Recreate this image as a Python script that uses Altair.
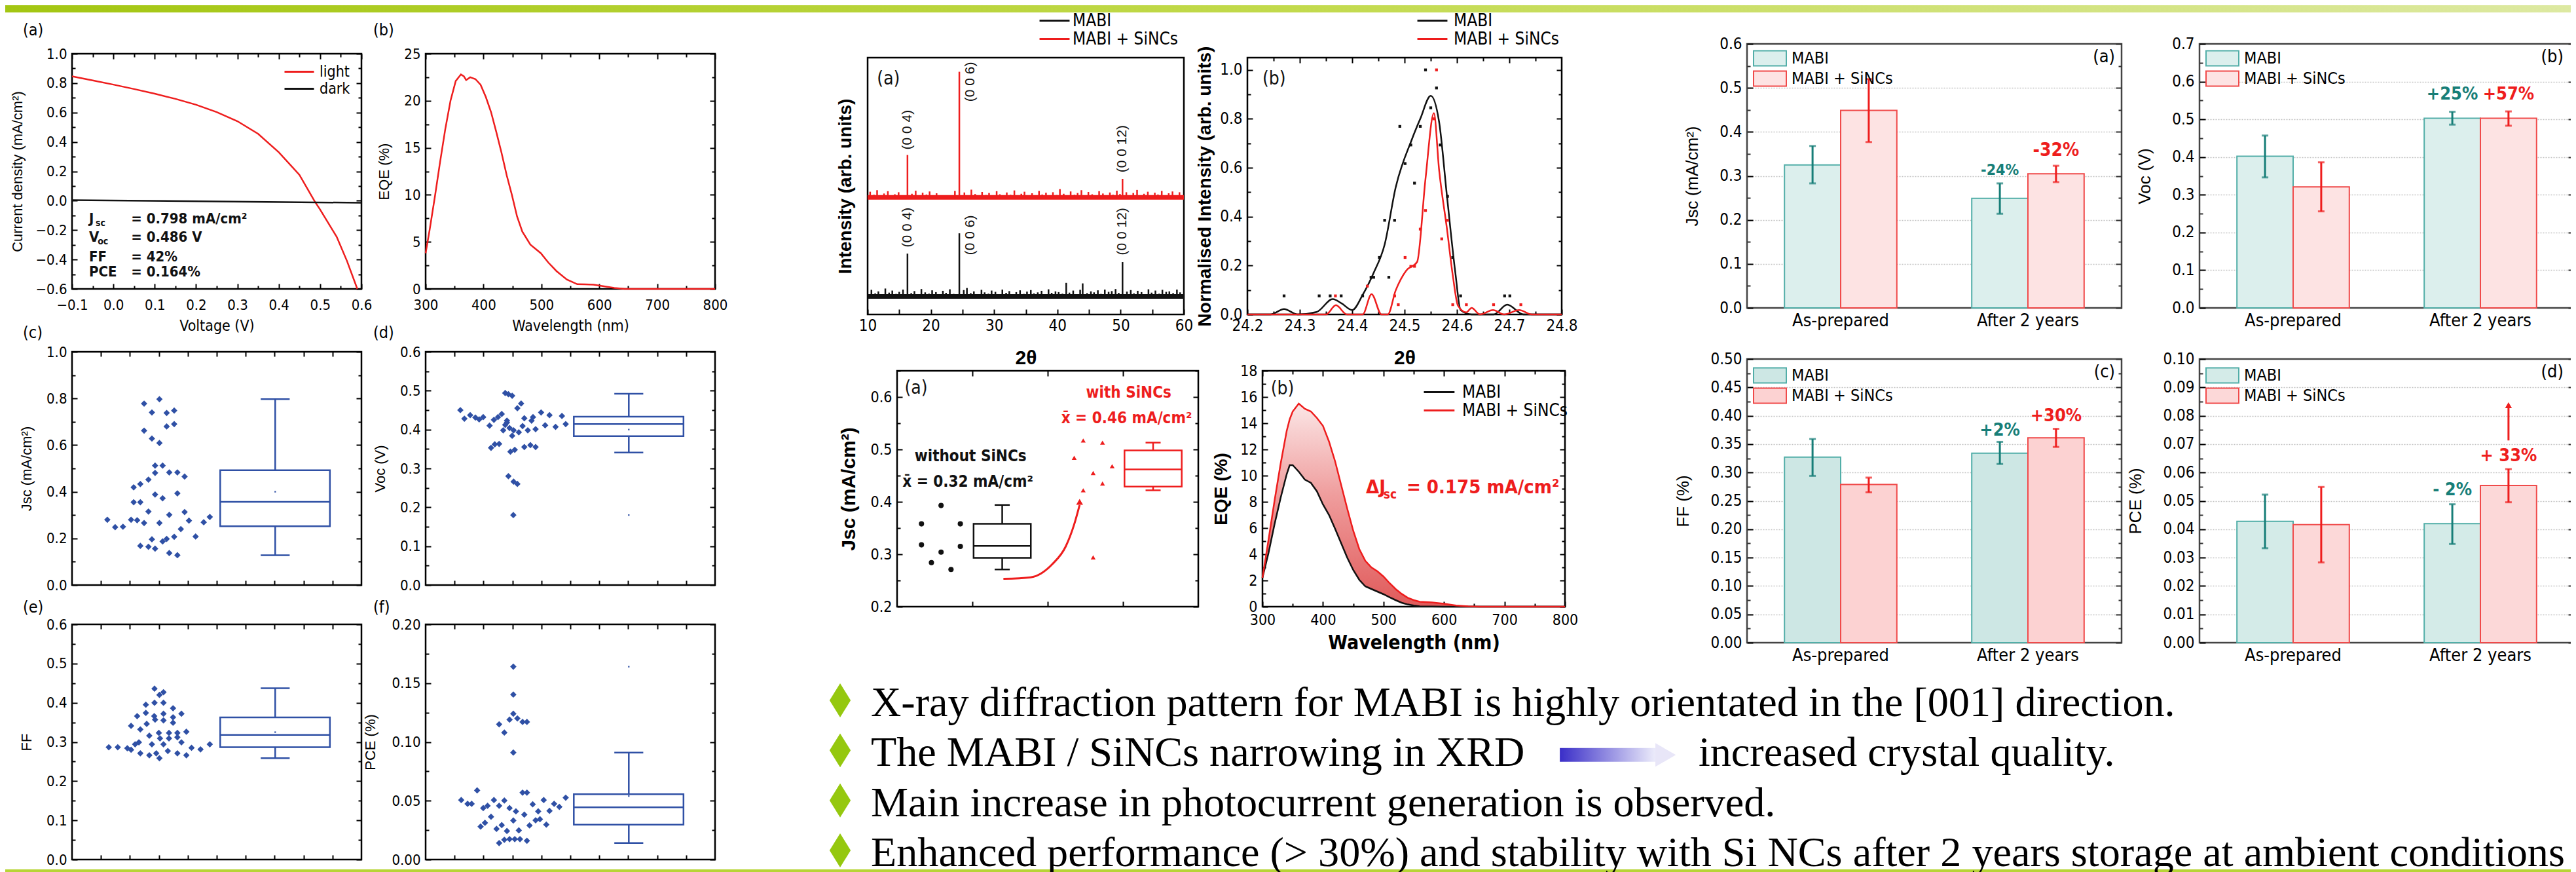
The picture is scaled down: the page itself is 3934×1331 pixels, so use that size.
import altair as alt
import pandas as pd

# ------------------------------------------------------------------ fonts / colours
FN = "Liberation Sans Narrow, DejaVu Sans Condensed, Arial Narrow, sans-serif"
FA = "Liberation Sans, Arial, DejaVu Sans, sans-serif"
FS = "Liberation Serif, Times New Roman, DejaVu Serif, serif"
RED = "#ee1d1d"
BLK = "#111111"
BLUE = "#2f50a5"
TEAL = "#177e78"
TEAL_LINE = "#52aea8"
RED_LINE = "#f04a4a"
GREEN = "#95c80f"

# ------------------------------------------------------------------ data
JV_V = [-0.1, -0.05, 0.0, 0.05, 0.1, 0.15, 0.2, 0.25, 0.3, 0.35, 0.4, 0.45, 0.486, 0.5, 0.54, 0.565, 0.59]
JV_J = [0.846, 0.818, 0.790, 0.760, 0.728, 0.693, 0.653, 0.603, 0.541, 0.455, 0.330, 0.176, 0.0, -0.060, -0.245, -0.410, -0.600]
DARK_V = [-0.1, 0.6]
DARK_J = [0.004, -0.014]
JV_LAB = ["J", "V", "FF", "PCE"]
JV_SUB = ["sc", "oc", "", ""]
JV_VAL = ["= 0.798 mA/cm²", "= 0.486 V", "= 42%", "= 0.164%"]
JV_ROW = [-0.121, -0.247, -0.381, -0.485]

EQE1_WL = [300, 307, 316, 325, 334, 343, 352, 361, 366, 370, 377, 386, 395, 404, 413, 422, 431, 440, 449, 458,
           467, 481, 499, 512, 526, 544, 562, 575, 590, 608, 626, 644, 700, 800]
EQE1_V = [3.8, 6.3, 9.8, 13.5, 17.0, 20.0, 22.1, 22.8, 22.6, 22.2, 22.5, 22.3, 21.7, 20.4, 18.8, 16.7, 14.5, 12.1, 10.0, 7.7,
          6.1, 4.7, 3.8, 2.8, 1.9, 1.0, 0.5, 0.48, 0.46, 0.28, 0.1, 0.0, 0.0, 0.0]

JSC_X = [1.22, 1.49, 1.76, 2.04, 2.25, 2.49, 2.13, 2.36, 2.64, 2.13, 2.36, 2.64, 2.36, 2.64, 2.87, 2.76, 2.87, 2.87, 3.13, 2.87,
         3.13, 3.02, 3.13, 3.27, 3.36, 3.64, 3.89, 3.64, 3.36, 3.53, 3.36, 3.64, 3.76, 3.89, 4.04, 4.27, 4.55, 4.76, 2.49, 3.02,
         2.76, 3.27, 3.53, 3.27, 3.53, 2.49, 2.76, 3.02]
JSC_Y = [0.28, 0.248, 0.25, 0.28, 0.278, 0.266, 0.419, 0.433, 0.452, 0.355, 0.355, 0.315, 0.168, 0.164, 0.156, 0.196, 0.481, 0.512, 0.512, 0.388,
         0.372, 0.266, 0.187, 0.198, 0.483, 0.483, 0.465, 0.393, 0.301, 0.207, 0.137, 0.128, 0.24, 0.313, 0.276, 0.208, 0.269, 0.292, 0.778, 0.797,
         0.74, 0.738, 0.748, 0.68, 0.69, 0.662, 0.628, 0.609]
JSC_BOX = [0.128, 0.252, 0.357, 0.4925, 0.797, 0.40]

VOC_X = [1.20, 1.34, 1.54, 1.72, 1.85, 1.99, 2.21, 2.36, 2.50, 2.63, 2.26, 2.39, 2.54, 2.75, 2.86, 2.99, 3.17, 3.30, 2.68, 2.81,
         2.90, 3.04, 2.99, 2.81, 2.93, 3.08, 2.86, 3.04, 3.17, 3.03, 3.22, 3.35, 3.41, 3.53, 3.66, 3.80, 3.41, 3.62, 3.80, 3.99,
         4.13, 4.28, 4.49, 4.71, 4.84, 2.75, 3.71]
VOC_Y = [0.45, 0.428, 0.437, 0.431, 0.426, 0.432, 0.41, 0.425, 0.432, 0.44, 0.353, 0.362, 0.363, 0.494, 0.491, 0.487, 0.455, 0.467, 0.398, 0.423,
         0.404, 0.398, 0.384, 0.418, 0.343, 0.348, 0.28, 0.266, 0.26, 0.18, 0.393, 0.409, 0.429, 0.398, 0.423, 0.401, 0.355, 0.36, 0.355, 0.444,
         0.411, 0.437, 0.407, 0.435, 0.414, 0.412, 0.432]
VOC_BOX = [0.341, 0.383, 0.414, 0.433, 0.492, 0.40]
VOC_OUT = [0.18]

FF_X = [1.27, 1.58, 1.91, 2.04, 2.18, 2.31, 2.36, 2.67, 2.91, 3.02, 3.31, 3.64, 3.95, 4.13, 4.44, 4.76, 2.04, 2.25, 2.36, 2.55,
        2.58, 2.67, 2.84, 2.87, 3.00, 3.04, 2.85, 2.55, 3.16, 3.02, 3.16, 2.85, 3.16, 3.16, 3.35, 3.35, 3.49, 3.49, 3.49, 3.64,
        3.64, 3.78, 3.78, 3.95, 3.16, 2.76]
FF_Y = [0.2865, 0.2865, 0.284, 0.28, 0.294, 0.299, 0.271, 0.266, 0.271, 0.2585, 0.277, 0.271, 0.266, 0.285, 0.281, 0.294, 0.341, 0.366, 0.332, 0.374,
        0.346, 0.316, 0.366, 0.357, 0.323, 0.309, 0.40, 0.395, 0.40, 0.42, 0.427, 0.436, 0.372, 0.355, 0.323, 0.309, 0.363, 0.349, 0.386, 0.323,
        0.312, 0.372, 0.299, 0.326, 0.294, 0.294]
FF_BOX = [0.2585, 0.2865, 0.3178, 0.3626, 0.437, 0.325]

PCE_X = [3.03, 3.03, 3.03, 2.90, 3.17, 2.54, 3.35, 3.50, 2.72, 3.03, 1.78, 1.23, 1.45, 1.59, 2.36, 2.72, 2.14, 2.54, 1.99, 2.90,
         3.35, 3.50, 3.70, 3.12, 3.41, 4.08, 4.28, 4.44, 4.62, 4.84, 3.89, 2.26, 2.05, 2.63, 1.90, 2.45, 2.81, 3.22, 3.03, 3.59,
         3.80, 3.95, 4.17, 2.54, 2.72, 2.90, 3.08, 3.26, 3.50]
PCE_Y = [0.164, 0.1403, 0.124, 0.119, 0.12, 0.115, 0.117, 0.117, 0.108, 0.091, 0.0588, 0.0506, 0.0474, 0.0474, 0.0506, 0.0502, 0.0457, 0.0457, 0.0438, 0.0438,
         0.0569, 0.0569, 0.047, 0.041, 0.0382, 0.0506, 0.0414, 0.0474, 0.0448, 0.0526, 0.041, 0.0364, 0.0312, 0.0293, 0.028, 0.0261, 0.0243, 0.0248, 0.0332, 0.029,
         0.0334, 0.0343, 0.0297, 0.014, 0.0168, 0.0174, 0.0174, 0.0174, 0.016]
PCE_BOX = [0.014, 0.0297, 0.0444, 0.0556, 0.091, 0.054]
PCE_OUT = [0.164]

XA_RED_NX = [10.4, 11.0, 11.5, 12.1, 12.6, 13.2, 13.8, 14.3, 14.9, 15.5,
             17.0, 17.6, 18.1, 18.7, 19.3, 19.8, 20.4, 20.9, 23.8, 25.3,
             25.9, 26.4, 27.0, 27.6, 28.1, 28.7, 29.2, 29.8, 30.4, 30.9,
             31.5, 32.0, 32.6, 33.2, 33.7, 34.3, 34.8, 35.4, 36.0, 36.5,
             37.1, 37.6, 38.2, 38.8, 39.3, 39.9, 40.4, 41.0, 41.6, 42.1,
             42.7, 43.2, 43.8, 44.4, 44.9, 45.5, 46.0, 46.6, 47.2, 47.7,
             48.3, 48.8, 49.4, 49.9, 50.9, 51.5, 52.0, 52.6, 53.1, 53.7,
             54.3, 54.8, 55.4, 55.9, 56.5, 57.1, 57.6, 58.2, 58.7, 59.3]
XA_RED_NY = [0.478, 0.466, 0.484, 0.462, 0.471, 0.480, 0.459, 0.468, 0.476, 0.463,
             0.470, 0.482, 0.461, 0.474, 0.467, 0.479, 0.458, 0.472, 0.481, 0.475,
             0.464, 0.486, 0.469, 0.460, 0.477, 0.465, 0.473, 0.462, 0.480, 0.468,
             0.458, 0.475, 0.466, 0.483, 0.461, 0.470, 0.478, 0.463, 0.472, 0.460,
             0.481, 0.467, 0.474, 0.459, 0.476, 0.465, 0.488, 0.470, 0.462, 0.479,
             0.466, 0.473, 0.484, 0.461, 0.477, 0.468, 0.463, 0.480, 0.471, 0.459,
             0.475, 0.466, 0.482, 0.469, 0.476, 0.462, 0.473, 0.485, 0.464, 0.470,
             0.478, 0.460, 0.474, 0.467, 0.481, 0.463, 0.472, 0.479, 0.461, 0.476]
XA_BLK_NX = [10.6, 11.2, 11.7, 12.3, 12.8, 13.4, 13.9, 14.5, 15.0, 15.6,
             16.9, 17.4, 18.0, 18.5, 19.1, 19.7, 20.2, 20.8, 21.3, 21.9,
             22.4, 23.0, 23.6, 25.2, 25.7, 26.3, 26.8, 27.4, 28.0, 28.5,
             29.1, 29.6, 30.2, 30.7, 31.3, 31.9, 32.4, 33.0, 33.5, 34.1,
             34.7, 35.2, 35.8, 36.3, 36.9, 37.5, 38.0, 38.6, 39.1, 39.7,
             40.2, 40.8, 41.4, 41.9, 42.5, 43.0, 43.6, 44.0, 44.7, 45.3,
             45.8, 46.4, 46.9, 47.5, 48.1, 48.6, 49.2, 49.7, 51.0, 51.6,
             52.1, 52.7, 53.3, 53.8, 54.4, 54.9, 55.5, 56.1, 56.6, 57.2,
             57.7, 58.3, 58.9, 59.4]
XA_BLK_NY = [0.096, 0.082, 0.090, 0.078, 0.101, 0.085, 0.093, 0.080, 0.088, 0.097,
             0.083, 0.091, 0.079, 0.099, 0.086, 0.081, 0.094, 0.087, 0.077, 0.092,
             0.084, 0.098, 0.080, 0.095, 0.103, 0.083, 0.090, 0.078, 0.096, 0.086,
             0.081, 0.093, 0.088, 0.079, 0.097, 0.084, 0.091, 0.077, 0.087, 0.094,
             0.080, 0.089, 0.095, 0.082, 0.086, 0.092, 0.078, 0.098, 0.084, 0.090,
             0.087, 0.081, 0.123, 0.085, 0.093, 0.079, 0.096, 0.121, 0.083, 0.090,
             0.086, 0.094, 0.080, 0.097, 0.088, 0.091, 0.099, 0.084, 0.089, 0.095,
             0.082, 0.092, 0.087, 0.079, 0.098, 0.085, 0.093, 0.081, 0.096, 0.088,
             0.090, 0.083, 0.097, 0.086]
XA_BASE_RED = 0.449
XA_BASE_BLK = 0.062
XA_PEAK_X = [16.3, 24.5, 50.3]
XA_PEAK_RED = [0.621, 0.945, 0.528]
XA_PEAK_BLK = [0.237, 0.316, 0.204]
XA_LAB_T = ["(0 0 4)", "(0 0 6)", "(0 0 12)", "(0 0 4)", "(0 0 6)", "(0 0 12)"]
XA_LAB_X = [16.3, 26.3, 50.3, 16.3, 26.3, 50.3]
XA_LAB_Y = [0.719, 0.906, 0.645, 0.339, 0.309, 0.323]

XB_BLK_X = [24.2, 24.244, 24.27, 24.296, 24.332, 24.363, 24.38, 24.4, 24.42, 24.441, 24.462, 24.483, 24.514, 24.53, 24.55,
            24.566, 24.581, 24.597, 24.607, 24.628, 24.67, 24.696, 24.727, 24.8]
XB_BLK_Y = [0.0, 0.0, 0.022, 0.0, 0.01, 0.063, 0.045, 0.018, 0.08, 0.17, 0.286, 0.519, 0.716, 0.80, 0.894,
            0.787, 0.483, 0.17, 0.018, 0.0, 0.0, 0.04, 0.0, 0.0]
XB_RED_X = [24.2, 24.35, 24.369, 24.39, 24.42, 24.437, 24.456, 24.468, 24.483, 24.503, 24.524, 24.54, 24.556, 24.566, 24.581,
            24.592, 24.602, 24.618, 24.628, 24.644, 24.669, 24.69, 24.719, 24.743, 24.8]
XB_RED_Y = [0.0, 0.0, 0.038, 0.0, 0.0, 0.083, 0.0, 0.0, 0.098, 0.179, 0.215, 0.555, 0.823, 0.59, 0.349,
            0.161, 0.036, 0.009, 0.027, 0.0, 0.018, 0.0, 0.018, 0.0, 0.0]
XB_BD_X = [24.27, 24.337, 24.358, 24.379, 24.42, 24.436, 24.441, 24.452, 24.47, 24.462, 24.481, 24.491, 24.501, 24.512, 24.519,
           24.53, 24.54, 24.55, 24.561, 24.568, 24.582, 24.592, 24.607, 24.691, 24.701]
XB_BD_Y = [0.076, 0.076, 0.076, 0.076, 0.076, 0.152, 0.152, 0.233, 0.152, 0.385, 0.385, 0.769, 0.617, 0.693, 0.537,
           0.769, 1.0, 0.845, 0.926, 0.693, 0.483, 0.233, 0.076, 0.076, 0.076]
XB_RD_X = [24.368, 24.429, 24.481, 24.488, 24.501, 24.512, 24.519, 24.53, 24.54, 24.556, 24.561, 24.571, 24.582, 24.592, 24.618,
           24.67, 24.722]
XB_RD_Y = [0.076, 0.116, 0.076, 0.04, 0.233, 0.197, 0.197, 0.349, 0.425, 0.8, 1.0, 0.309, 0.385, 0.04, 0.04,
           0.04, 0.04]

JA_BLK_X = [0.81, 2.10, 1.46, 0.81, 2.10, 1.46, 1.14, 1.79]
JA_BLK_Y = [0.358, 0.358, 0.393, 0.318, 0.315, 0.304, 0.284, 0.271]
JA_RED_X = [6.18, 6.82, 5.88, 7.14, 6.51, 6.82, 6.18, 6.51]
JA_RED_Y = [0.517, 0.513, 0.484, 0.468, 0.455, 0.435, 0.422, 0.294]
JA_BOX_BLK = [0.271, 0.293, 0.316, 0.358, 0.394]
JA_BOX_RED = [0.422, 0.429, 0.462, 0.498, 0.513]
JA_ARROW_X = [3.53, 4.43, 5.15, 5.60, 5.88, 6.06]
JA_ARROW_Y = [0.253, 0.256, 0.281, 0.315, 0.357, 0.394]

EQE2_WL = [300, 310, 320, 330, 340, 345, 350, 360, 370, 380, 390, 400, 410, 420, 430, 440, 450, 460, 470, 480,
           490, 500, 510, 520, 530, 540, 550, 560, 580, 600, 620, 640, 660, 700, 800]
EQE2_SI = [2.2, 5.1, 8.1, 10.9, 13.4, 14.3, 14.9, 15.5, 15.1, 14.9, 14.4, 13.8, 12.6, 11.1, 9.3, 7.5, 5.8, 4.4, 3.5, 3.0,
           2.7, 2.3, 1.8, 1.35, 0.98, 0.68, 0.5, 0.38, 0.32, 0.22, 0.09, 0.02, 0.0, 0.0, 0.0]
EQE2_MA = [2.2, 4.1, 6.3, 8.3, 10.1, 10.8, 10.8, 10.3, 9.7, 9.45, 8.8, 7.8, 7.0, 5.95, 4.85, 3.75, 2.8, 2.05, 1.55, 1.35,
           1.15, 0.95, 0.72, 0.5, 0.3, 0.17, 0.09, 0.03, 0.01, 0.0, 0.0, 0.0, 0.0, 0.0, 0.0]

COND = ["As-prepared", "After 2 years"]
SER = ["MABI", "MABI + SiNCs"]
JSC_BAR = [0.325, 0.449, 0.249, 0.305]
JSC_LO = [0.283, 0.377, 0.214, 0.286]
JSC_HI = [0.368, 0.520, 0.283, 0.323]
VOC_BAR = [0.402, 0.321, 0.503, 0.503]
VOC_LO = [0.346, 0.256, 0.486, 0.483]
VOC_HI = [0.457, 0.386, 0.520, 0.521]
FF_BAR = [0.327, 0.279, 0.334, 0.361]
FF_LO = [0.294, 0.265, 0.315, 0.345]
FF_HI = [0.359, 0.291, 0.354, 0.377]
PCE_BAR = [0.0428, 0.0416, 0.0420, 0.0554]
PCE_LO = [0.0333, 0.0283, 0.0348, 0.0495]
PCE_HI = [0.0522, 0.0549, 0.0488, 0.0612]
JSC_ANN = ["-24%", "-32%"]
JSC_ANN_Y = [0.312, 0.357]
VOC_ANN = ["+25%", "+57%"]
VOC_ANN_Y = [0.566, 0.566]
FF_ANN = ["+2%", "+30%"]
FF_ANN_Y = [0.374, 0.399]
PCE_ANN = ["- 2%", "+ 33%"]
PCE_ANN_Y = [0.0537, 0.0658]
PCE_ARROW = [0.0713, 0.0837]

T_LINES = ["X-ray diffraction pattern for MABI is highly orientated  in the [001] direction.",
           "The MABI / SiNCs narrowing in XRD",
           "Main increase in photocurrent generation is observed.",
           "Enhanced performance (> 30%) and stability with Si NCs after 2 years storage at ambient conditions"]
T_EXTRA = "increased crystal quality."


# ------------------------------------------------------------------ helpers
def sc(dom, **kw):
    return alt.Scale(domain=dom, nice=False, zero=False, **kw)


def rng(a, b, step):
    n = int(round((b - a) / step))
    return [round(a + i * step, 5) for i in range(n + 1)]


def lax(orient, values, fmt=None, title=None, tick=8, lsize=22, lpad=8, tsize=21, tfont=FA,
        tweight="normal", tpad=10, lfont=FN, labels=True):
    kw = dict(orient=orient, domain=False, grid=False, title=title, titleFont=tfont, titleFontSize=tsize,
              titleFontWeight=tweight, titleColor="black", titlePadding=tpad, labels=labels, titleLimit=1000)
    if values is not None:
        kw["values"] = values
    if labels:
        kw.update(labelFont=lfont, labelFontSize=lsize, labelColor="black", labelPadding=lpad,
                  labelFlush=False, labelOverlap=False, labelBound=False)
        if fmt is not None:
            kw["format"] = fmt
        if orient in ("top", "bottom"):
            kw["labelAngle"] = 0
    if tick > 0:
        kw.update(ticks=True, tickSize=tick, offset=-tick, tickColor="black", tickWidth=2)
    else:
        kw["ticks"] = False
    return alt.Axis(**kw)


def tax(orient, values, tick=8, color="black"):
    return alt.Axis(orient=orient, values=values, labels=False, domain=False, ticks=True, tickSize=tick,
                    offset=-tick, tickColor=color, tickWidth=2, grid=False, title=None)


def gax(orient, values):
    return alt.Axis(orient=orient, values=values, labels=False, domain=False, ticks=False, grid=True,
                    gridColor="#c4c4c4", gridDash=[2, 2], gridWidth=1.5, title=None)


def ghost(xdom, ydom, xax=None, yax=None, band=None):
    """Invisible layer that only carries an extra axis (always encodes both x and y)."""
    d = {"gy": [ydom[0]]}
    enc = {"y": alt.Y("gy:Q", scale=sc(ydom), axis=yax)}
    if band is None:
        d["gx"] = [xdom[0]]
        enc["x"] = alt.X("gx:Q", scale=sc(xdom), axis=xax)
    else:
        d["cond"] = [band[1][0]]
        enc["x"] = alt.X("cond:N", scale=band[0], sort=band[1], axis=None)
    return alt.Chart(pd.DataFrame(d)).mark_point(size=0, opacity=0).encode(**enc)


def tick_layers(xdom, ydom, xspecs, yspecs, color="black", band=None):
    out = []
    for i in range(max(len(xspecs), len(yspecs))):
        xa = tax(*xspecs[i], color=color) if i < len(xspecs) else None
        ya = tax(*yspecs[i], color=color) if i < len(yspecs) else None
        out.append(ghost(xdom, ydom, xa, ya, band=band))
    return out


def panel(layers, W, H, title=None, stroke="black", sw=2.5):
    ch = alt.layer(*layers).resolve_axis(x="independent", y="independent")
    props = dict(width=W, height=H, view=alt.ViewBackground(stroke=stroke, strokeWidth=sw))
    if title is not None:
        props["title"] = title
    return ch.properties(**props)


def letter(t, dx, off, anchor="start", size=25):
    return alt.TitleParams(text=t, anchor=anchor, frame="group", orient="top", dx=dx, offset=off,
                           baseline="bottom", font=FN, fontSize=size, fontWeight="normal", color="black")


LINE_PATH = "M-1.8,0L1.8,0"
RECT_PATH = "M-2,-0.92L2,-0.92L2,0.92L-2,0.92Z"


def leg(x, y, size, path, loff, fsize=24, sw=3):
    return alt.Legend(orient="none", legendX=x, legendY=y, title=None, symbolType=path, symbolSize=size,
                      symbolStrokeWidth=sw, labelFont=FN, labelFontSize=fsize, labelColor="black",
                      labelOffset=loff, labelLimit=500, rowPadding=0, padding=0, direction="vertical")


SP = pd.DataFrame({"z": [0]})


def sp(w, h):
    return alt.Chart(SP).mark_point(size=0, opacity=0).properties(width=w, height=h)


# ------------------------------------------------------------------ left (a) J-V
def make_LA():
    xd, yd = [-0.1, 0.6], [-0.6, 1.0]
    xs, ys = sc(xd), sc(yd)
    df = pd.DataFrame({"V": JV_V + DARK_V, "J": JV_J + DARK_J,
                       "s": ["light"] * len(JV_V) + ["dark"] * len(DARK_V)})
    lines = alt.Chart(df).mark_line(strokeWidth=2.5).encode(
        x=alt.X("V:Q", scale=xs, axis=lax("bottom", rng(-0.1, 0.6, 0.1), ".1f", "Voltage (V)", lpad=14,
                                           tsize=23, tfont=FN, tpad=10)),
        y=alt.Y("J:Q", scale=ys, axis=lax("left", rng(-0.6, 1.0, 0.2), ".1f", "Current density (mA/cm²)",
                                           tsize=22, tpad=15)),
        color=alt.Color("s:N", scale=alt.Scale(domain=["light", "dark"], range=[RED, BLK]),
                        legend=leg(333, 13.5, 625, LINE_PATH, 17, fsize=23)))
    ann = pd.DataFrame({"xl": [-0.059] * 4, "xs": [-0.043, -0.038, 0.0, 0.0], "xv": [0.043] * 4,
                        "y": JV_ROW, "m": JV_LAB, "s": JV_SUB, "v": JV_VAL})
    base = alt.Chart(ann)
    t1 = base.mark_text(align="left", baseline="middle", font=FN, fontSize=22, fontWeight="bold", color=BLK).encode(
        x=alt.X("xl:Q", scale=xs, axis=None), y=alt.Y("y:Q", scale=ys, axis=None), text="m:N")
    t2 = base.mark_text(align="left", baseline="middle", dy=7, font=FN, fontSize=14, fontWeight="bold", color=BLK).encode(
        x=alt.X("xs:Q", scale=xs, axis=None), y=alt.Y("y:Q", scale=ys, axis=None), text="s:N")
    t3 = base.mark_text(align="left", baseline="middle", font=FN, fontSize=22, fontWeight="bold", color=BLK).encode(
        x=alt.X("xv:Q", scale=xs, axis=None), y=alt.Y("y:Q", scale=ys, axis=None), text="v:N")
    ticks = tick_layers(xd, yd,
                        [("top", rng(-0.1, 0.6, 0.1), 8), ("bottom", rng(-0.05, 0.55, 0.1), 5), ("top", rng(-0.05, 0.55, 0.1), 5)],
                        [("right", rng(-0.6, 1.0, 0.2), 8), ("left", rng(-0.5, 0.9, 0.2), 5), ("right", rng(-0.5, 0.9, 0.2), 5)])
    return panel([lines, t1, t2, t3] + ticks, 442, 359, title=letter("(a)", -75, -13))


def make_LB():
    xd, yd = [300, 800], [0, 25]
    xs, ys = sc(xd), sc(yd)
    df = pd.DataFrame({"w": EQE1_WL, "e": EQE1_V})
    line = alt.Chart(df).mark_line(strokeWidth=2.5, color=RED).encode(
        x=alt.X("w:Q", scale=xs, axis=lax("bottom", rng(300, 800, 100), "d", "Wavelength (nm)", lpad=14,
                                           tsize=23, tfont=FN, tpad=10)),
        y=alt.Y("e:Q", scale=ys, axis=lax("left", rng(0, 25, 5), "d", "EQE (%)", tsize=22, tpad=18)))
    ticks = tick_layers(xd, yd,
                        [("top", rng(300, 800, 100), 8), ("bottom", rng(350, 750, 100), 5), ("top", rng(350, 750, 100), 5)],
                        [("right", rng(0, 25, 5), 8), ("left", rng(2.5, 22.5, 5), 5), ("right", rng(2.5, 22.5, 5), 5)])
    return panel([line] + ticks, 442, 359, title=letter("(b)", -80, -13))


BOX_X0, BOX_X1, BOX_XC, CAP0, CAP1 = 5.12, 8.91, 7.02, 6.52, 7.52


def swarm_panel(px, vals, stats, ydom, ymaj, ymin, yfmt, ytitle, tpad, lett, ldx, loff, H, outl=None):
    lo, q1, med, q3, hi, mean = stats
    xd = [0, 10]
    xs, ys = sc(xd), sc(ydom)
    pts = alt.Chart(pd.DataFrame({"x": px, "y": vals})).mark_point(
        shape="diamond", filled=True, size=95, color=BLUE, opacity=1).encode(
        x=alt.X("x:Q", scale=xs, axis=None),
        y=alt.Y("y:Q", scale=ys, axis=lax("left", ymaj, yfmt, ytitle, tsize=22, tpad=tpad)))
    box = alt.Chart(pd.DataFrame({"a": [BOX_X0], "b": [BOX_X1], "c": [q1], "d": [q3]})).mark_rect(
        fillOpacity=0, stroke=BLUE, strokeWidth=2.5).encode(
        x=alt.X("a:Q", scale=xs, axis=None), x2="b:Q", y=alt.Y("c:Q", scale=ys, axis=None), y2="d:Q")
    segs = pd.DataFrame({"a": [BOX_X0, BOX_XC, BOX_XC, CAP0, CAP0],
                         "b": [BOX_X1, BOX_XC, BOX_XC, CAP1, CAP1],
                         "c": [med, q3, lo, hi, lo],
                         "d": [med, hi, q1, hi, lo]})
    rules = alt.Chart(segs).mark_rule(color=BLUE, strokeWidth=2.5).encode(
        x=alt.X("a:Q", scale=xs, axis=None), x2="b:Q", y=alt.Y("c:Q", scale=ys, axis=None), y2="d:Q")
    dots_y = [mean] + (outl or [])
    dots = alt.Chart(pd.DataFrame({"x": [BOX_XC] * len(dots_y), "y": dots_y})).mark_point(
        shape="square", filled=True, size=5, color=BLUE, opacity=1).encode(
        x=alt.X("x:Q", scale=xs, axis=None), y=alt.Y("y:Q", scale=ys, axis=None))
    ticks = tick_layers(xd, ydom,
                        [("top", rng(1, 9, 1), 7), ("bottom", rng(1, 9, 1), 7)],
                        [("right", ymaj, 8), ("left", ymin, 5), ("right", ymin, 5)])
    return panel([pts, box, rules, dots] + ticks, 442, H, title=letter(lett, ldx, loff))


# ------------------------------------------------------------------ middle top
def xrd_color(legend):
    return alt.Color("s:N", scale=alt.Scale(domain=SER, range=[BLK, RED]), legend=legend)


def make_XA():
    xd, yd = [10, 60], [0, 1]
    xs, ys = sc(xd), sc(yd)
    L = leg(270.5, -71.5, 729, "M-1.7,0L1.7,0", 12.5, fsize=26)
    sx = XA_RED_NX + XA_PEAK_X + XA_BLK_NX + XA_PEAK_X
    s0 = [XA_BASE_RED] * (len(XA_RED_NX) + 3) + [XA_BASE_BLK] * (len(XA_BLK_NX) + 3)
    s1 = XA_RED_NY + XA_PEAK_RED + XA_BLK_NY + XA_PEAK_BLK
    ss = [SER[1]] * (len(XA_RED_NX) + 3) + [SER[0]] * (len(XA_BLK_NX) + 3)
    spikes = alt.Chart(pd.DataFrame({"x": sx, "y0": s0, "y1": s1, "s": ss})).mark_rule(strokeWidth=2.5).encode(
        x=alt.X("x:Q", scale=xs, axis=lax("bottom", rng(10, 60, 10), "d", "2θ", lsize=24, lpad=5, tsize=30,
                                           tweight="bold", tpad=22)),
        y=alt.Y("y0:Q", scale=ys, axis=alt.Axis(orient="left", labels=False, ticks=False, domain=False, grid=False,
                                                 title="Intensity (arb. units)", titleFont=FA, titleFontSize=28,
                                                 titleFontWeight="bold", titleColor="black", titlePadding=20,
                                                 titleLimit=1000)),
        y2="y1:Q", color=xrd_color(L))
    # dense noise floor drawn as a thick base line for each trace
    base = alt.Chart(pd.DataFrame({"a": [10, 10], "b": [60, 60], "y": [XA_BASE_BLK + 0.008, XA_BASE_RED + 0.007],
                                   "s": SER})).mark_rule(strokeWidth=7).encode(
        x=alt.X("a:Q", scale=xs, axis=None), x2="b:Q", y=alt.Y("y:Q", scale=ys, axis=None), color=xrd_color(L))
    labs = alt.Chart(pd.DataFrame({"x": XA_LAB_X, "y": XA_LAB_Y, "t": XA_LAB_T})).mark_text(
        angle=270, font=FA, fontSize=21, color=BLK, baseline="middle", align="center").encode(
        x=alt.X("x:Q", scale=xs, axis=None), y=alt.Y("y:Q", scale=ys, axis=None), text="t:N")
    lett = alt.Chart(pd.DataFrame({"x": [13.3], "y": [0.915], "t": ["(a)"]})).mark_text(
        font=FN, fontSize=28, color=BLK, baseline="middle", align="center").encode(
        x=alt.X("x:Q", scale=xs, axis=None), y=alt.Y("y:Q", scale=ys, axis=None), text="t:N")
    ticks = tick_layers(xd, yd, [("bottom", rng(15, 55, 10), 8)], [])
    return panel([spikes, base, labs, lett] + ticks, 483, 392)


def make_XB():
    xd, yd = [24.2, 24.8], [0, 1.05]
    xs, ys = sc(xd), sc(yd)
    L = leg(267.5, -71.5, 729, "M-1.7,0L1.7,0", 17.5, fsize=26)
    df = pd.DataFrame({"x": XB_BLK_X + XB_RED_X, "y": XB_BLK_Y + XB_RED_Y,
                       "s": [SER[0]] * len(XB_BLK_X) + [SER[1]] * len(XB_RED_X)})
    lines = alt.Chart(df).mark_line(strokeWidth=2.5, interpolate="monotone").encode(
        x=alt.X("x:Q", scale=xs, axis=lax("bottom", rng(24.2, 24.8, 0.1), ".1f", "2θ", lsize=24, lpad=5, tsize=30,
                                           tweight="bold", tpad=22)),
        y=alt.Y("y:Q", scale=ys, axis=lax("left", rng(0, 1.0, 0.2), ".1f", "Normalised Intensity (arb. units)",
                                           lsize=24, tsize=28, tweight="bold", tpad=8)),
        color=xrd_color(L))
    dd = pd.DataFrame({"x": XB_BD_X + XB_RD_X, "y": XB_BD_Y + XB_RD_Y,
                       "s": [SER[0]] * len(XB_BD_X) + [SER[1]] * len(XB_RD_X)})
    dots = alt.Chart(dd).mark_square(size=18, opacity=1).encode(
        x=alt.X("x:Q", scale=xs, axis=None), y=alt.Y("y:Q", scale=ys, axis=None), color=xrd_color(L))
    lett = alt.Chart(pd.DataFrame({"x": [24.251], "y": [0.962], "t": ["(b)"]})).mark_text(
        font=FN, fontSize=28, color=BLK, baseline="middle", align="center").encode(
        x=alt.X("x:Q", scale=xs, axis=None), y=alt.Y("y:Q", scale=ys, axis=None), text="t:N")
    ticks = tick_layers(xd, yd,
                        [("top", rng(24.3, 24.7, 0.1), 8), ("bottom", rng(24.25, 24.75, 0.1), 5), ("top", rng(24.25, 24.75, 0.1), 5)],
                        [("right", rng(0, 1.0, 0.2), 8), ("left", rng(0.1, 0.9, 0.2), 5), ("right", rng(0.1, 0.9, 0.2), 5)])
    return panel([lines, dots, lett] + ticks, 480, 392)


# ------------------------------------------------------------------ middle bottom
def make_JA():
    xd, yd = [0, 10], [0.2, 0.65]
    xs, ys = sc(xd), sc(yd)
    bd = alt.Chart(pd.DataFrame({"x": JA_BLK_X, "y": JA_BLK_Y})).mark_circle(size=65, color=BLK, opacity=1).encode(
        x=alt.X("x:Q", scale=xs, axis=None),
        y=alt.Y("y:Q", scale=ys, axis=lax("left", rng(0.2, 0.6, 0.1), ".1f", "Jsc (mA/cm²)", lsize=23, tsize=30,
                                           tweight="bold", tpad=18)))
    rd = alt.Chart(pd.DataFrame({"x": JA_RED_X, "y": JA_RED_Y})).mark_point(
        shape="triangle-up", filled=True, size=55, color=RED, opacity=1).encode(
        x=alt.X("x:Q", scale=xs, axis=None), y=alt.Y("y:Q", scale=ys, axis=None))
    boxes = []
    for stats, x0, x1, col in ((JA_BOX_BLK, 2.54, 4.44, BLK), (JA_BOX_RED, 7.55, 9.45, RED)):
        lo, q1, med, q3, hi = stats
        xc = (x0 + x1) / 2
        boxes.append(alt.Chart(pd.DataFrame({"a": [x0], "b": [x1], "c": [q1], "d": [q3]})).mark_rect(
            fillOpacity=0, stroke=col, strokeWidth=2.5).encode(
            x=alt.X("a:Q", scale=xs, axis=None), x2="b:Q", y=alt.Y("c:Q", scale=ys, axis=None), y2="d:Q"))
        segs = pd.DataFrame({"a": [x0, xc, xc, xc - 0.25, xc - 0.25], "b": [x1, xc, xc, xc + 0.25, xc + 0.25],
                             "c": [med, q3, lo, hi, lo], "d": [med, hi, q1, hi, lo]})
        boxes.append(alt.Chart(segs).mark_rule(color=col, strokeWidth=2.5).encode(
            x=alt.X("a:Q", scale=xs, axis=None), x2="b:Q", y=alt.Y("c:Q", scale=ys, axis=None), y2="d:Q"))
    arrow = alt.Chart(pd.DataFrame({"x": JA_ARROW_X, "y": JA_ARROW_Y})).mark_line(
        color=RED, strokeWidth=3, interpolate="monotone").encode(
        x=alt.X("x:Q", scale=xs, axis=None), y=alt.Y("y:Q", scale=ys, axis=None))
    head = alt.Chart(pd.DataFrame({"x": [JA_ARROW_X[-1]], "y": [JA_ARROW_Y[-1] + 0.006]})).mark_point(
        shape="triangle-up", filled=True, size=110, color=RED, opacity=1).encode(
        x=alt.X("x:Q", scale=xs, axis=None), y=alt.Y("y:Q", scale=ys, axis=None))
    tdf = pd.DataFrame({"x": [2.44, 2.35, 7.69, 7.62], "y": [0.486, 0.438, 0.607, 0.559],
                        "t": ["without SiNCs", "x̄ = 0.32 mA/cm²", "with SiNCs", "x̄ = 0.46 mA/cm²"],
                        "c": ["k", "k", "r", "r"]})
    txt_b = alt.Chart(tdf).mark_text(font=FN, fontSize=24, fontWeight="bold", baseline="middle").encode(
        x=alt.X("x:Q", scale=xs, axis=None), y=alt.Y("y:Q", scale=ys, axis=None), text="t:N",
        color=alt.Color("c:N", scale=alt.Scale(domain=["k", "r"], range=[BLK, RED]), legend=None))
    txt_n = alt.Chart(pd.DataFrame({"x": [0.63], "y": [0.616], "t": ["(a)"]})).mark_text(
        font=FN, fontSize=28, baseline="middle", color=BLK).encode(
        x=alt.X("x:Q", scale=xs, axis=None), y=alt.Y("y:Q", scale=ys, axis=None), text="t:N")
    ticks = tick_layers(xd, yd,
                        [("top", [2.5, 5.0, 7.5], 8), ("bottom", [2.5, 5.0, 7.5], 8)],
                        [("right", rng(0.2, 0.6, 0.1), 8), ("left", rng(0.25, 0.65, 0.1), 5), ("right", rng(0.25, 0.65, 0.1), 5)])
    return panel([bd, rd] + boxes + [arrow, head, txt_b, txt_n] + ticks, 460, 360)


def make_EB():
    xd, yd = [300, 800], [0, 18]
    xs, ys = sc(xd), sc(yd)
    grad = alt.Gradient(gradient="linear",
                        stops=[alt.GradientStop(color="#fbe6e6", offset=0),
                               alt.GradientStop(color="#ef9d9d", offset=0.45),
                               alt.GradientStop(color="#e05a5a", offset=1)],
                        x1=0, x2=0, y1=0, y2=1)
    adf = pd.DataFrame({"w": EQE2_WL, "hi": EQE2_SI, "lo": EQE2_MA})
    area = alt.Chart(adf).mark_area(color=grad, opacity=1).encode(
        x=alt.X("w:Q", scale=xs, axis=None), y=alt.Y("hi:Q", scale=ys, axis=None), y2="lo:Q")
    ldf = pd.DataFrame({"w": EQE2_WL + EQE2_WL, "e": EQE2_MA + EQE2_SI,
                        "s": [SER[0]] * len(EQE2_WL) + [SER[1]] * len(EQE2_WL)})
    lines = alt.Chart(ldf).mark_line(strokeWidth=2.5).encode(
        x=alt.X("w:Q", scale=xs, axis=lax("bottom", rng(300, 800, 100), "d", "Wavelength (nm)", lsize=23, lpad=9,
                                           tsize=30, tfont=FN, tweight="bold", tpad=8)),
        y=alt.Y("e:Q", scale=ys, axis=lax("left", rng(0, 18, 2), "d", "EQE (%)", lsize=23, tsize=28, tweight="bold", tpad=14)),
        color=alt.Color("s:N", scale=alt.Scale(domain=SER, range=[BLK, RED]),
                        legend=leg(255.4, 18, 676, LINE_PATH, 20.6, fsize=26)))
    tdf = pd.DataFrame({"x": [471, 538], "y": [9.1, 9.1], "t": ["ΔJ", "= 0.175 mA/cm²"]})
    t1 = alt.Chart(tdf).mark_text(font=FN, fontSize=29, fontWeight="bold", color=RED, align="left", baseline="middle").encode(
        x=alt.X("x:Q", scale=xs, axis=None), y=alt.Y("y:Q", scale=ys, axis=None), text="t:N")
    t2 = alt.Chart(pd.DataFrame({"x": [500], "y": [9.1], "t": ["sc"]})).mark_text(
        font=FN, fontSize=19, fontWeight="bold", color=RED, align="left", baseline="middle", dy=11).encode(
        x=alt.X("x:Q", scale=xs, axis=None), y=alt.Y("y:Q", scale=ys, axis=None), text="t:N")
    t3 = alt.Chart(pd.DataFrame({"x": [333], "y": [16.6], "t": ["(b)"]})).mark_text(
        font=FN, fontSize=28, color=BLK, baseline="middle").encode(
        x=alt.X("x:Q", scale=xs, axis=None), y=alt.Y("y:Q", scale=ys, axis=None), text="t:N")
    ticks = tick_layers(xd, yd,
                        [("top", rng(300, 800, 100), 8), ("bottom", rng(350, 750, 100), 5), ("top", rng(350, 750, 100), 5)],
                        [("right", rng(0, 18, 2), 8), ("left", rng(1, 17, 2), 5), ("right", rng(1, 17, 2), 5)])
    return panel([area, lines, t1, t2, t3] + ticks, 462, 360)


# ------------------------------------------------------------------ right: bar charts
def bar_panel(vals, lo, hi, ydom, ymaj, ymin, yfmt, ytitle, lett, ann, ann_y, W, H, leg_y, lett_dx, fills,
              ann_big=27, ann_small=27, arrow=None):
    ys = sc(ydom)
    xsc = alt.Scale(domain=COND, paddingInner=0.4, paddingOuter=0.2)
    osc = alt.Scale(domain=SER, paddingInner=0, paddingOuter=0)
    df = pd.DataFrame({"cond": [COND[0], COND[0], COND[1], COND[1]], "ser": SER * 2, "v": vals, "lo": lo, "hi": hi})
    xaxis = alt.Axis(orient="bottom", labels=True, ticks=False, domain=False, grid=False, labelFont=FN, labelFontSize=27,
                     labelColor="black", labelPadding=6, labelAngle=0, title=None)
    xo = alt.XOffset("ser:N", scale=osc, sort=SER)
    L = leg(21.5, leg_y, 625, RECT_PATH, 19.5, fsize=25, sw=2)
    bars = alt.Chart(df).mark_bar(strokeWidth=2).encode(
        x=alt.X("cond:N", scale=xsc, sort=COND, axis=xaxis), xOffset=xo,
        y=alt.Y("v:Q", scale=ys, axis=lax("left", ymaj, yfmt, ytitle, tick=9, lsize=24, tsize=26, tpad=28)),
        fill=alt.Fill("ser:N", scale=alt.Scale(domain=SER, range=fills), legend=L),
        stroke=alt.Stroke("ser:N", scale=alt.Scale(domain=SER, range=[TEAL_LINE, RED_LINE]), legend=L))
    cenc = alt.Color("ser:N", scale=alt.Scale(domain=SER, range=[TEAL, RED]), legend=None)
    xn = alt.X("cond:N", scale=xsc, sort=COND, axis=None)
    err = alt.Chart(df).mark_rule(strokeWidth=3).encode(
        x=xn, xOffset=xo, y=alt.Y("lo:Q", scale=ys, axis=None), y2="hi:Q", color=cenc)
    cap_hi = alt.Chart(df).mark_tick(orient="horizontal", size=10, thickness=3).encode(
        x=xn, xOffset=xo, y=alt.Y("hi:Q", scale=ys, axis=None), color=cenc)
    cap_lo = alt.Chart(df).mark_tick(orient="horizontal", size=10, thickness=3).encode(
        x=xn, xOffset=xo, y=alt.Y("lo:Q", scale=ys, axis=None), color=cenc)
    a_t = pd.DataFrame({"cond": [COND[1]], "ser": [SER[0]], "y": [ann_y[0]], "t": [ann[0]]})
    a_r = pd.DataFrame({"cond": [COND[1]], "ser": [SER[1]], "y": [ann_y[1]], "t": [ann[1]]})
    at1 = alt.Chart(a_t).mark_text(font=FN, fontWeight="bold", baseline="middle", fontSize=ann_small, color=TEAL).encode(
        x=xn, xOffset=xo, y=alt.Y("y:Q", scale=ys, axis=None), text="t:N")
    at2 = alt.Chart(a_r).mark_text(font=FN, fontWeight="bold", baseline="middle", fontSize=ann_big, color=RED).encode(
        x=xn, xOffset=xo, y=alt.Y("y:Q", scale=ys, axis=None), text="t:N")
    layers = [bars, err, cap_hi, cap_lo, at1, at2]
    if arrow is not None:
        ardf = pd.DataFrame({"cond": [COND[1]], "ser": [SER[1]], "a": [arrow[0]], "b": [arrow[1]]})
        layers.append(alt.Chart(ardf).mark_rule(strokeWidth=3, color=RED).encode(
            x=xn, xOffset=xo, y=alt.Y("a:Q", scale=ys, axis=None), y2="b:Q"))
        layers.append(alt.Chart(ardf).mark_point(shape="triangle-up", filled=True, size=110, color=RED, opacity=1).encode(
            x=xn, xOffset=xo, y=alt.Y("b:Q", scale=ys, axis=None)))
    band = (xsc, COND)
    gl = ghost(None, ydom, None, gax("left", ymaj[1:-1]), band=band)
    ticks = tick_layers(None, ydom, [], [("right", ymaj, 9), ("left", ymin, 5), ("right", ymin, 5)],
                        color="#333333", band=band)
    return panel(layers + [gl] + ticks, W, H, title=letter(lett, lett_dx, -73, anchor="end", size=27),
                 stroke="#444444", sw=2.5)


def make_bars():
    ra = bar_panel(JSC_BAR, JSC_LO, JSC_HI, [0, 0.6], rng(0, 0.6, 0.1), rng(0.05, 0.55, 0.1), ".1f", "Jsc (mA/cm²)",
                   "(a)", JSC_ANN, JSC_ANN_Y, 572, 403, 8.5, -10, ["#dcefed", "#fde3e3"], ann_big=28, ann_small=23)
    rb = bar_panel(VOC_BAR, VOC_LO, VOC_HI, [0, 0.7], rng(0, 0.7, 0.1), rng(0.05, 0.65, 0.1), ".1f", "Voc (V)",
                   "(b)", VOC_ANN, VOC_ANN_Y, 572, 403, 8.5, -16, ["#dcefed", "#fde3e3"])
    rc = bar_panel(FF_BAR, FF_LO, FF_HI, [0, 0.5], rng(0, 0.5, 0.05), rng(0.025, 0.475, 0.05), ".2f", "FF (%)",
                   "(c)", FF_ANN, FF_ANN_Y, 572, 433, 11.5, -10, ["#cde7e4", "#fcd2d2"])
    rd = bar_panel(PCE_BAR, PCE_LO, PCE_HI, [0, 0.1], rng(0, 0.1, 0.01), rng(0.005, 0.095, 0.01), ".2f", "PCE (%)",
                   "(d)", PCE_ANN, PCE_ANN_Y, 572, 433, 11.5, -16, ["#d4ebe8", "#fcd8d8"], arrow=PCE_ARROW)
    return ra, rb, rc, rd


# ------------------------------------------------------------------ bullets, banner, bottom line
def make_T():
    xs = sc([0, 100])
    ys = sc([0.3056, 4.118], reverse=True)
    tdf = pd.DataFrame({"x": [2.98] * 4 + [50.07], "y": [1, 2, 3, 4, 2], "t": T_LINES + [T_EXTRA]})
    txt = alt.Chart(tdf).mark_text(align="left", baseline="alphabetic", font=FS, fontSize=64.2, color="black").encode(
        x=alt.X("x:Q", scale=xs, axis=None), y=alt.Y("y:Q", scale=ys, axis=None), text="t:N")
    dia = alt.Chart(pd.DataFrame({"x": [1.23] * 4, "y": [0.686, 1.686, 2.686, 3.686]})).mark_point(
        shape="M0,-1L0.62,0L0,1L-0.62,0Z", filled=True, size=2700, color=GREEN, opacity=1).encode(
        x=alt.X("x:Q", scale=xs, axis=None), y=alt.Y("y:Q", scale=ys, axis=None))
    grad = alt.Gradient(gradient="linear",
                        stops=[alt.GradientStop(color="#3a2ec8", offset=0), alt.GradientStop(color="#eeeefb", offset=1)],
                        x1=0, x2=1, y1=0, y2=0)
    body = alt.Chart(pd.DataFrame({"a": [42.18], "b": [47.69], "c": [1.64], "d": [1.915]})).mark_rect(color=grad).encode(
        x=alt.X("a:Q", scale=xs, axis=None), x2="b:Q", y=alt.Y("c:Q", scale=ys, axis=None), y2="d:Q")
    head = alt.Chart(pd.DataFrame({"x": [48.2], "y": [1.777]})).mark_point(
        shape="triangle-right", filled=True, size=1300, color="#e8e6f8", opacity=1).encode(
        x=alt.X("x:Q", scale=xs, axis=None), y=alt.Y("y:Q", scale=ys, axis=None))
    return alt.layer(dia, body, head, txt).properties(width=2684, height=291)


def make_strip(H, color):
    return alt.Chart(pd.DataFrame({"a": [0], "b": [1], "c": [0], "d": [1]})).mark_rect(color=color).encode(
        x=alt.X("a:Q", scale=sc([0, 1]), axis=None), x2="b:Q",
        y=alt.Y("c:Q", scale=sc([0, 1]), axis=None), y2="d:Q").properties(width=3934, height=H)


BANNER_GRAD = alt.Gradient(gradient="linear",
                           stops=[alt.GradientStop(color="#a3c612", offset=0),
                                  alt.GradientStop(color="#c2da4c", offset=0.5),
                                  alt.GradientStop(color="#dde9a2", offset=1)],
                           x1=0, x2=1, y1=0, y2=0)

IND = dict(color="independent", fill="independent", stroke="independent")


def vcol(*items):
    return alt.vconcat(*items, spacing=0, bounds="flush").resolve_scale(**IND).resolve_legend(**IND)


# ------------------------------------------------------------------ assemble
LA = make_LA()
LB = make_LB()
LC = swarm_panel(JSC_X, JSC_Y, JSC_BOX, [0, 1.0], rng(0, 1.0, 0.2), rng(0.1, 0.9, 0.2), ".1f", "Jsc (mA/cm²)", 18,
                 "(c)", -75, -20, 356)
LD = swarm_panel(VOC_X, VOC_Y, VOC_BOX, [0, 0.6], rng(0, 0.6, 0.1), rng(0.05, 0.55, 0.1), ".1f", "Voc (V)", 18,
                 "(d)", -80, -20, 356, outl=VOC_OUT)
LE = swarm_panel(FF_X, FF_Y, FF_BOX, [0, 0.6], rng(0, 0.6, 0.1), rng(0.05, 0.55, 0.1), ".1f", "FF", 18,
                 "(e)", -75, -23, 359)
LF = swarm_panel(PCE_X, PCE_Y, PCE_BOX, [0, 0.2], rng(0, 0.2, 0.05), rng(0.025, 0.175, 0.05), ".2f", "PCE (%)", 20,
                 "(f)", -80, -23, 359, outl=PCE_OUT)
XA = make_XA()
XB = make_XB()
JA = make_JA()
EB = make_EB()
RA, RB, RC, RD = make_bars()
TT = make_T()

# each column is a flush vertical stack; nested stacks count as zero width in the flush row,
# so the unit spacers between them set the x position of each column
COL_0 = vcol(make_strip(19, BANNER_GRAD), sp(1, 1308), make_strip(4, "#b7d436"))
COL_L1 = vcol(sp(1, 82), LA, sp(1, 96), LC, sp(1, 60), LE)
COL_L2 = vcol(sp(1, 82), LB, sp(1, 96), LD, sp(1, 60), LF)
COL_T = vcol(sp(1, 1040), TT)
COL_XA = vcol(sp(1, 88), XA)
COL_JA = vcol(sp(1, 566), JA)
COL_XB = vcol(sp(1, 88), XB)
COL_EB = vcol(sp(1, 566), EB)
COL_R1 = vcol(sp(1, 67), RA, sp(1, 78), RC)
COL_R2 = vcol(sp(1, 67), RB, sp(1, 78), RD)

chart = alt.hconcat(
    COL_0, sp(110, 1), COL_L1, sp(540, 1), COL_L2, sp(600, 1), COL_T, sp(75, 1), COL_XA, sp(45, 1), COL_JA,
    sp(535, 1), COL_XB, sp(23, 1), COL_EB, sp(740, 1), COL_R1, sp(691, 1), COL_R2,
    spacing=0, bounds="flush"
).resolve_scale(**IND).resolve_legend(**IND).properties(
    padding={"left": -8, "top": -8, "right": -8, "bottom": 0}, background="white"
).configure_view(strokeWidth=0)

chart.save("out.html", embed_options={"renderer": "svg", "actions": False})
